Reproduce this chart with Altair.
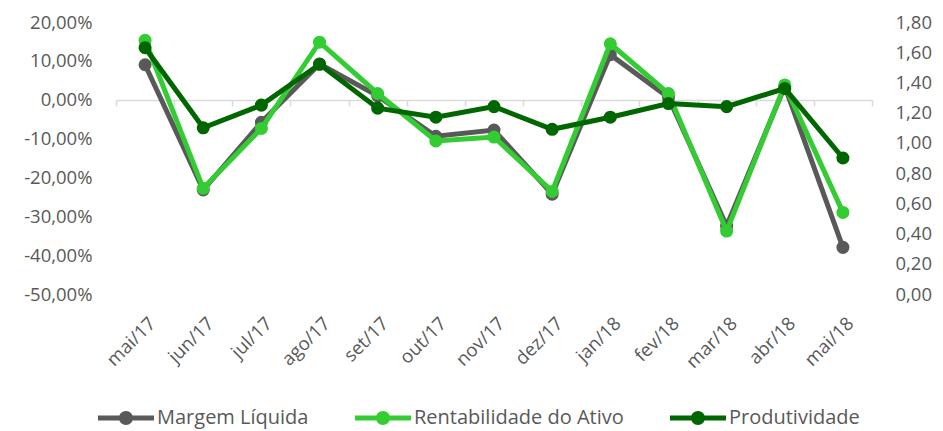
import altair as alt
import pandas as pd

months = ["mai/17", "jun/17", "jul/17", "ago/17", "set/17", "out/17", "nov/17",
          "dez/17", "jan/18", "fev/18", "mar/18", "abr/18", "mai/18"]
margem = [9.0, -23.2, -5.8, 9.2, 1.0, -9.4, -7.8, -24.3, 11.6, 0.6, -32.5, 3.4, -38.0]
rentab = [15.3, -22.8, -7.4, 14.8, 1.6, -10.6, -9.6, -23.6, 14.4, 1.6, -33.8, 3.8, -29.0]
produt = [1.63, 1.10, 1.25, 1.52, 1.23, 1.17, 1.24, 1.09, 1.17, 1.26, 1.24, 1.36, 0.90]

series_names = ["Margem Líquida", "Rentabilidade do Ativo", "Produtividade"]
series_colors = ["#595959", "#33CC33", "#006600"]

rows = []
for name, vals in zip(series_names, [margem, rentab, produt]):
    for m, v in zip(months, vals):
        rows.append({"mes": m, "serie": name, "valor": v})
df = pd.DataFrame(rows)

FONT = "Open Sans"
FS = 18.5
LEG_FS = 20
LABEL_COLOR = "#595959"

legend_path = ("M-4,-0.36 L4,-0.36 L4,0.36 L-4,0.36 Z "
               "M1,0 A1,1 0 1,1 -1,0 A1,1 0 1,1 1,0 Z")

color = alt.Color(
    "serie:N",
    scale=alt.Scale(domain=series_names, range=series_colors),
    legend=alt.Legend(
        title=None, orient="bottom", direction="horizontal",
        symbolType=legend_path, symbolSize=196, symbolStrokeWidth=0,
        labelFont=FONT, labelFontSize=LEG_FS, labelColor=LABEL_COLOR,
        labelOffset=21, columnPadding=46, offset=36, labelLimit=400,
    ),
)

x = alt.X(
    "mes:N", sort=months, title=None,
    scale=alt.Scale(paddingInner=0, paddingOuter=0),
    axis=alt.Axis(
        offset=-194, tickBand="extent", tickSize=6, tickColor="#D9D9D9",
        tickWidth=1.5, domainColor="#D9D9D9", domainWidth=1.5,
        labelAngle=-45, labelAlign="right", labelBaseline="middle",
        labelPadding=214, labelOffset=7, labelFont=FONT, labelFontSize=FS,
        labelColor=LABEL_COLOR, grid=False,
    ),
)

left_axis = alt.Axis(
    values=[20, 10, 0, -10, -20, -30, -40, -50],
    labelExpr="(datum.value < 0 ? '-' : '') + replace(format(abs(datum.value), '.2f'), '.', ',') + '%'",
    domain=False, ticks=False, grid=False, labelPadding=24,
    labelFont=FONT, labelFontSize=FS, labelColor=LABEL_COLOR, title=None,
)
right_axis = alt.Axis(
    values=[0, 0.2, 0.4, 0.6, 0.8, 1.0, 1.2, 1.4, 1.6, 1.8],
    labelExpr="replace(format(datum.value, '.2f'), '.', ',')",
    domain=False, ticks=False, grid=False, labelPadding=23, orient="right",
    labelFont=FONT, labelFontSize=FS, labelColor=LABEL_COLOR, title=None,
)

yl = alt.Y("valor:Q", scale=alt.Scale(domain=[-50, 20], nice=False), axis=left_axis)
yr = alt.Y("valor:Q", scale=alt.Scale(domain=[0, 1.8], nice=False), axis=right_axis)


def series_layer(name, y):
    base = alt.Chart(df).transform_filter(alt.datum.serie == name)
    line = base.mark_line(strokeWidth=5).encode(x=x, y=y, color=color)
    pts = base.mark_point(filled=True, size=170, opacity=1).encode(x=x, y=y, color=color)
    return line + pts


left = alt.layer(series_layer(series_names[0], yl), series_layer(series_names[1], yl))
right = series_layer(series_names[2], yr)

chart = (
    alt.layer(left, right)
    .resolve_scale(y="independent")
    .properties(width=756, height=272, padding={"left": 15, "top": 5, "right": 0, "bottom": 6})
    .configure_view(stroke=None)
)

chart.save("out.html", embed_options={"renderer": "svg", "actions": False})
